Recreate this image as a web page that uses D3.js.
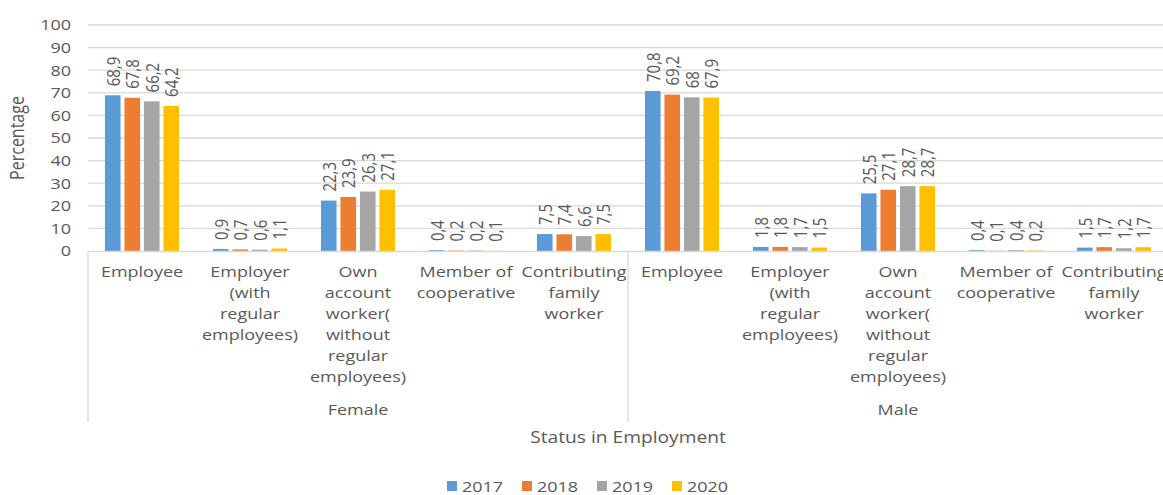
<!DOCTYPE html>
<html><head><meta charset="utf-8">
<script src="https://cdn.jsdelivr.net/npm/d3@7"></script>
<style>html,body{margin:0;padding:0;background:#fff;overflow:hidden}</style>
</head><body>
<svg id="c" width="1163" height="495"></svg>
<script>
const groups = ["Female", "Male"];
const categories = ["Employee", "Employer (with regular employees)", "Own account worker( without regular employees)", "Member of cooperative", "Contributing family worker"];
const categoryLines = [["Employee"], ["Employer", "(with", "regular", "employees)"], ["Own", "account", "worker(", "without", "regular", "employees)"], ["Member of", "cooperative"], ["Contributing", "family", "worker"]];
const years = ["2017", "2018", "2019", "2020"];
const colors = ["#5b9bd5", "#ed7d31", "#a5a5a5", "#ffc000"];
const female2017 = [68.9, 0.9, 22.3, 0.4, 7.5];
const female2018 = [67.8, 0.7, 23.9, 0.2, 7.4];
const female2019 = [66.2, 0.6, 26.3, 0.2, 6.6];
const female2020 = [64.2, 1.1, 27.1, 0.1, 7.5];
const male2017 = [70.8, 1.8, 25.5, 0.4, 1.5];
const male2018 = [69.2, 1.8, 27.1, 0.1, 1.7];
const male2019 = [68, 1.7, 28.7, 0.4, 1.2];
const male2020 = [67.9, 1.5, 28.7, 0.2, 1.7];
const yTicks = [0, 10, 20, 30, 40, 50, 60, 70, 80, 90, 100];

const seriesByGroup = {Female: [female2017, female2018, female2019, female2020], Male: [male2017, male2018, male2019, male2020]};
const rows = [];
groups.forEach(g => categories.forEach((c, i) => {
  rows.push({key: g + "|" + c, group: g, cat: i, values: years.map((yr, k) => ({year: yr, k, v: seriesByGroup[g][k][i]}))});
}));

const svg = d3.select("#c");
const font = "'Open Sans', sans-serif";
const txt = "#595959";
const SX = 1.2;
const pL = 88, pR = 1168, pT = 25, pB = 251;

const x = d3.scaleBand().domain(rows.map(r => r.key)).range([pL, pR]);
const xi = d3.scaleBand().domain(years).range([0, x.bandwidth()]).paddingInner(0.2).paddingOuter(0.87);
const y = d3.scaleLinear().domain([0, 100]).range([pB, pT]);

// gridlines
svg.append("g").selectAll("line").data(yTicks.filter(t => t > 0)).join("line")
  .attr("x1", pL).attr("x2", 1163).attr("y1", d => y(d)).attr("y2", d => y(d))
  .attr("stroke", "#d9d9d9").attr("stroke-width", 1.3);

// y tick labels
const ya = svg.append("g").attr("transform", `translate(${pL},0)`)
  .call(d3.axisLeft(y).tickValues(yTicks).tickSize(0).tickPadding(17));
ya.select(".domain").remove();
ya.selectAll("text").attr("font-family", font).attr("font-size", 15).attr("fill", txt)
  .attr("x", 0).attr("transform", `translate(-17,0) scale(${SX},1)`);

// bars
const gRow = svg.append("g").selectAll("g").data(rows).join("g")
  .attr("transform", d => `translate(${x(d.key)},0)`);
gRow.selectAll("rect").data(d => d.values).join("rect")
  .attr("x", d => xi(d.year)).attr("width", xi.bandwidth())
  .attr("y", d => y(d.v)).attr("height", d => y(0) - y(d.v))
  .attr("fill", d => colors[d.k]);
gRow.selectAll("text.lbl").data(d => d.values).join("text").attr("class", "lbl")
  .attr("transform", d => `translate(${xi(d.year) + xi.bandwidth() / 2},${y(d.v) - 9}) rotate(-90) scale(1,${SX})`)
  .attr("dominant-baseline", "central").attr("text-anchor", "start")
  .attr("font-family", font).attr("font-size", 15).attr("fill", txt)
  .text(d => String(d.v).replace(".", ","));

// x axis line
svg.append("line").attr("x1", pL).attr("x2", 1163).attr("y1", pB + 0.5).attr("y2", pB + 0.5)
  .attr("stroke", "#d9d9d9").attr("stroke-width", 1.3);
// group separators
const sep = [pL, x(rows[5].key), pR];
svg.append("g").selectAll("line").data(sep).join("line")
  .attr("x1", d => d).attr("x2", d => d).attr("y1", pB).attr("y2", 422)
  .attr("stroke", "#d9d9d9").attr("stroke-width", 1.3);

// category labels
gRow.append("text").attr("class", "cat").attr("text-anchor", "middle")
  .attr("transform", `translate(${x.bandwidth() / 2},0) scale(${SX},1)`)
  .attr("font-family", font).attr("font-size", 15).attr("fill", txt)
  .selectAll("tspan").data(d => categoryLines[d.cat]).join("tspan")
  .attr("x", 0).attr("y", (d, i) => 277 + i * 21).text(d => d);

// group labels
svg.append("g").selectAll("text").data(groups).join("text")
  .attr("transform", g => `translate(${x(g + "|" + categories[2]) + x.bandwidth() / 2},415) scale(${SX},1)`)
  .attr("text-anchor", "middle").attr("font-family", font).attr("font-size", 15).attr("fill", txt)
  .text(g => g);

// axis titles
svg.append("text").attr("transform", `translate(628,443) scale(${SX},1)`).attr("text-anchor", "middle")
  .attr("font-family", font).attr("font-size", 16).attr("fill", txt).text("Status in Employment");
svg.append("text").attr("transform", `translate(24,${(pT + pB) / 2}) rotate(-90) scale(1,${SX})`)
  .attr("text-anchor", "middle").attr("font-family", font).attr("font-size", 16).attr("fill", txt).text("Percentage");

// legend
const lg = svg.append("g").selectAll("g").data(years).join("g")
  .attr("transform", (d, i) => `translate(${447 + i * 75},481)`);
lg.append("rect").attr("width", 10).attr("height", 10).attr("fill", (d, i) => colors[i]);
lg.append("text").attr("transform", `translate(15,5) scale(${SX},1)`).attr("dominant-baseline", "central")
  .attr("font-family", font).attr("font-size", 15).attr("fill", txt).text(d => d);
</script>
</body></html>
